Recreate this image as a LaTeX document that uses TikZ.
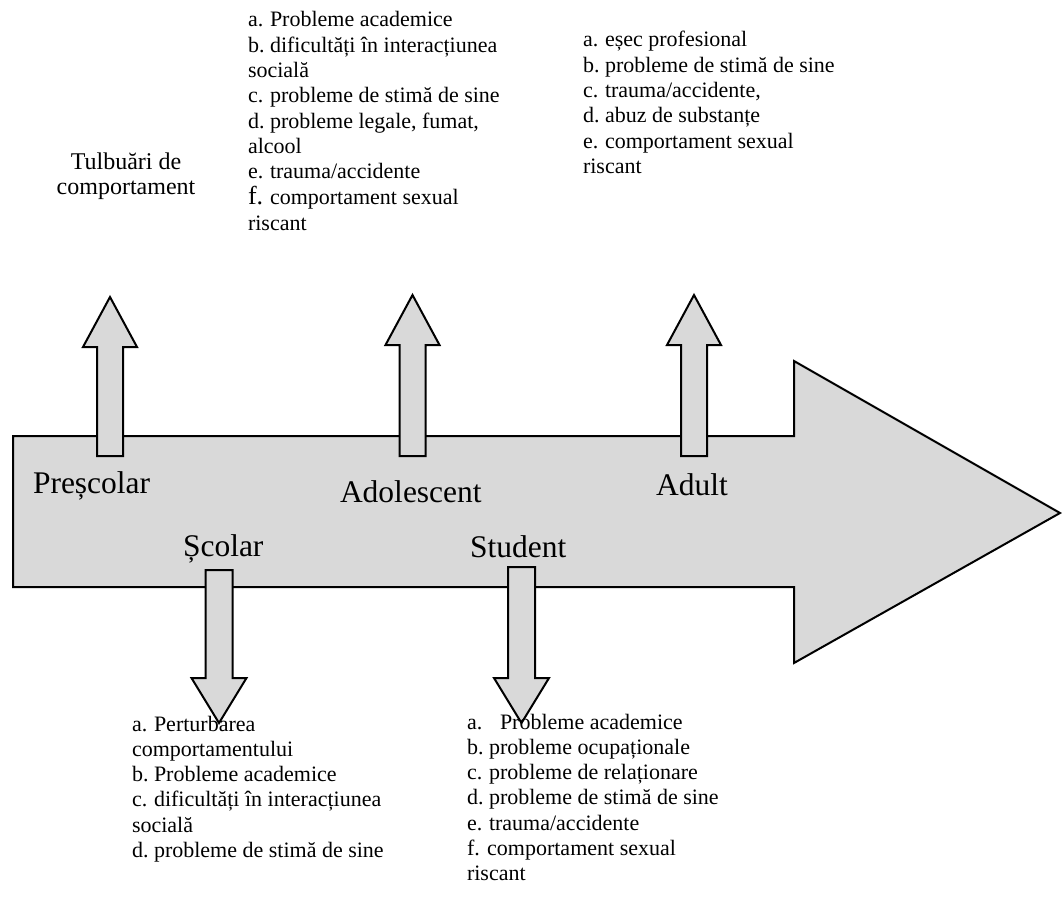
\documentclass[tikz,border=0pt]{standalone}
\usepackage{fontspec}
\setmainfont{Liberation Serif}
\definecolor{arrowgray}{RGB}{217,217,217}
\newcommand{\lab}[1]{\makebox[22pt][l]{#1}}
\begin{document}
\begin{tikzpicture}[x=1pt,y=-1pt,
  shapefill/.style={draw=black, line width=2pt, fill=arrowgray, line join=miter},
  itm/.style={inner sep=0pt, outer sep=0pt, anchor=base west, font=\fontsize{22}{25}\selectfont},
  lbl/.style={inner sep=0pt, outer sep=0pt, anchor=base west, font=\fontsize{31.5}{36}\selectfont},
  top/.style={inner sep=0pt, outer sep=0pt, anchor=base, font=\fontsize{24}{28}\selectfont}]
\useasboundingbox (0,0) rectangle (1062,917);
% main arrow
\draw[shapefill] (13,436) -- (794,436) -- (794,361) -- (1060,513) -- (794,663) -- (794,587) -- (13,587) -- cycle;
% up arrows
\foreach \cx/\tp in {110/297, 412.5/295, 694/295}{
  \draw[shapefill, shift={(\cx,0)}] (-13,456) -- (-13,\tp+50) -- (-27,\tp+50) -- (0,\tp) -- (27,\tp+50) -- (13,\tp+50) -- (13,456) -- cycle;
}
% down arrows
\foreach \cx/\st in {219/570, 521.5/567}{
  \draw[shapefill, shift={(\cx,0)}] (-13.5,\st) -- (-13.5,678) -- (-27.5,678) -- (0,723) -- (27.5,678) -- (13.5,678) -- (13.5,\st) -- cycle;
}
% stage labels
\node[lbl] (prescolar) at (33,493) {Preșcolar};
\node[lbl] (adolescent) at (340,502) {Adolescent};
\node[lbl] (adult) at (656,495) {Adult};
\node[lbl] (scolar) at (183,556) {Școlar};
\node[lbl] (student) at (470,557) {Student};
% prescolar text
\node[top] (tulb1) at (126,170) {Tulbuări de};
\node[top] (tulb2) at (126,195) {comportament};
% adolescent column
\node[itm] (ado1) at (248,27) {\lab{a.}Probleme academice};
\node[itm] (ado2) at (248,52.3) {\lab{b.}dificultăți în interacțiunea};
\node[itm] (ado3) at (248,77.6) {socială};
\node[itm] (ado4) at (248,102.9) {\lab{c.}probleme de stimă de sine};
\node[itm] (ado5) at (248,128.2) {\lab{d.}probleme legale, fumat,};
\node[itm] (ado6) at (248,153.5) {alcool};
\node[itm] (ado7) at (248,178.8) {\lab{e.}trauma/accidente};
\node[itm] (ado8) at (248,205) {\lab{{\fontsize{26}{28}\selectfont f.}}comportament sexual};
\node[itm] (ado9) at (248,230.3) {riscant};
% adult column
\node[itm] (adu1) at (583,47) {\lab{a.}eșec profesional};
\node[itm] (adu2) at (583,72.3) {\lab{b.}probleme de stimă de sine};
\node[itm] (adu3) at (583,97.6) {\lab{c.}trauma/accidente,};
\node[itm] (adu4) at (583,122.9) {\lab{d.}abuz de substanțe};
\node[itm] (adu5) at (583,148.2) {\lab{e.}comportament sexual};
\node[itm] (adu6) at (583,173.5) {riscant};
% scolar column
\node[itm] (sco1) at (132,731) {\lab{a.}Perturbarea};
\node[itm] (sco2) at (132,756.3) {comportamentului};
\node[itm] (sco3) at (132,781.6) {\lab{b.}Probleme academice};
\node[itm] (sco4) at (132,806.9) {\lab{c.}dificultăți în interacțiunea};
\node[itm] (sco5) at (132,832.2) {socială};
\node[itm] (sco6) at (132,857.5) {\lab{d.}probleme de stimă de sine};
% student column
\node[itm] (stu1) at (467,729) {\makebox[33pt][l]{a.}Probleme academice};
\node[itm] (stu2) at (467,754.3) {\lab{b.}probleme ocupaționale};
\node[itm] (stu3) at (467,779.6) {\lab{c.}probleme de relaționare};
\node[itm] (stu4) at (467,804.9) {\lab{d.}probleme de stimă de sine};
\node[itm] (stu5) at (467,830.2) {\lab{e.}trauma/accidente};
\node[itm] (stu6) at (467,855.5) {f. comportament sexual};
\node[itm] (stu7) at (467,880.8) {riscant};
\end{tikzpicture}
\end{document}
